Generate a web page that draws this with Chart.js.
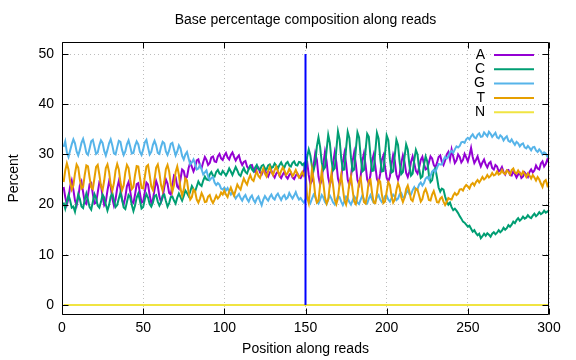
<!DOCTYPE html>
<html><head><meta charset="utf-8">
<script src="https://cdn.jsdelivr.net/npm/chart.js@4/dist/chart.umd.min.js"></script>
<style>html,body{margin:0;padding:0;background:#fff}canvas{display:block}</style>
</head><body>
<canvas id="c" width="576" height="360"></canvas>
<script>
const chartTitle = 'Base percentage composition along reads';
const xTitle = 'Position along reads';
const yTitle = 'Percent';
const seriesNames = ['A','C','G','T','N'];
const seriesColors = ['#9400d3','#009e73','#56b4e9','#e69f00','#f0e442'];
const xTicks = [0,50,100,150,200,250,300];
const yTicks = [0,10,20,30,40,50];
const markerX = 150;
const markerY = [0,50];

const A = [
23.5,21.5,20.0,21.2,23.6,24.8,23.0,20.8,19.8,21.4,
23.8,24.6,22.5,20.4,20.1,21.9,24.1,24.3,22.1,20.2,
20.4,22.4,24.4,23.9,21.6,19.9,20.6,22.8,24.6,23.6,
21.2,19.8,21.0,23.3,24.7,23.2,20.9,20.0,21.5,23.7,
24.5,22.7,20.6,20.3,22.0,24.1,24.3,22.3,20.4,20.6,
22.5,24.4,24.0,21.9,20.3,21.0,23.0,24.7,23.7,21.6,
20.5,21.4,23.5,25.0,24.2,22.3,22.0,23.9,25.8,25.5,
23.6,23.2,25.1,27.0,26.7,25.2,25.5,27.3,28.4,27.5,
26.6,27.4,28.8,29.0,27.8,27.3,28.5,29.5,28.9,27.9,
28.3,29.4,29.6,28.6,28.5,29.6,30.1,29.2,28.9,29.8,
30.3,29.4,29.0,29.9,30.4,29.5,28.8,29.4,29.8,28.6,
27.9,28.5,28.7,27.6,27.1,27.8,27.9,26.9,26.5,27.3,
27.4,26.4,26.0,26.8,27.0,26.1,25.6,26.4,26.8,25.9,
25.4,26.2,26.6,25.7,25.3,26.0,26.5,25.6,25.2,25.9,
26.3,25.4,25.1,25.8,26.2,25.5,25.3,25.9,26.6,28.5,
28.6,25.9,24.1,24.7,27.8,30.2,28.9,25.6,24.0,24.9,
28.1,30.5,28.6,25.4,23.9,25.1,28.3,30.4,28.4,25.2,
24.0,25.3,28.4,30.3,28.2,25.0,23.9,25.5,28.6,30.4,
28.1,24.9,24.0,25.7,28.7,30.2,27.9,25.0,24.2,25.9,
28.8,30.0,27.7,25.1,24.4,26.1,28.9,29.8,27.5,25.3,
24.6,25.6,28.0,29.9,28.7,26.0,25.0,26.1,28.3,29.8,
28.5,26.3,25.5,26.6,28.5,29.6,28.3,26.7,26.2,27.4,
28.9,29.5,28.1,27.0,27.2,28.4,29.6,29.2,27.9,27.4,
28.3,29.5,29.8,28.5,27.9,28.8,30.0,30.5,29.0,31.0,
29.6,28.3,28.8,30.0,29.5,28.4,28.9,30.1,29.4,28.6,
29.8,31.3,29.5,28.3,28.9,29.6,28.5,27.6,28.4,29.0,
28.0,27.4,28.2,28.5,27.3,27.0,27.9,27.6,26.6,26.9,
27.5,26.5,26.0,26.8,26.9,25.9,25.8,26.6,26.1,25.4,
26.0,26.3,25.3,25.6,26.4,26.0,25.5,26.5,27.0,26.4,
26.8,27.8,27.2,27.0,28.2,28.6,27.6,28.1,29.0,28.4
];

const C = [
20.4,19.2,20.6,21.9,20.8,19.4,19.6,18.6,20.3,22.0,
21.1,19.6,19.3,20.9,22.2,20.9,19.5,19.0,20.6,22.1,
21.3,19.8,19.4,20.5,22.0,21.4,20.0,18.8,19.9,21.6,
22.3,20.9,19.5,19.9,21.2,22.4,21.0,19.4,19.1,20.5,
21.9,21.5,19.9,18.7,19.8,21.4,22.2,20.8,19.2,19.5,
21.0,22.1,21.4,20.1,19.6,20.4,21.7,21.9,20.6,19.8,
20.5,21.8,22.0,20.7,19.6,20.3,21.5,21.6,20.8,20.2,
21.4,22.2,21.5,20.8,21.7,22.8,22.3,21.7,22.6,23.7,
23.1,22.6,23.6,24.6,24.0,23.7,24.8,25.6,25.0,24.9,
26.0,26.5,25.8,25.6,26.5,26.9,26.2,26.0,26.7,26.3,
25.8,26.4,27.2,26.6,25.9,26.7,27.5,26.8,26.0,25.7,
26.6,27.3,26.5,26.2,27.1,27.7,27.0,26.6,27.4,27.9,
27.1,26.9,27.7,27.9,27.2,27.0,27.8,28.0,27.3,27.5,
28.2,27.8,27.2,27.9,28.4,27.7,27.4,28.2,28.5,27.8,
27.6,28.3,28.6,27.9,27.8,28.5,28.4,27.9,28.2,26.5,
29.5,31.0,29.8,27.6,26.8,28.2,31.6,33.4,31.5,28.4,
26.9,27.4,30.9,33.9,32.3,28.8,26.8,27.2,31.0,34.6,
33.0,29.2,26.9,27.0,31.2,34.5,33.3,29.4,26.7,27.0,
31.0,34.4,33.4,29.5,26.6,26.9,30.8,34.1,33.5,29.6,
26.7,26.8,30.6,34.3,33.2,29.3,26.6,26.7,30.2,33.8,
32.9,29.0,26.4,26.6,29.8,32.9,31.9,28.4,26.1,26.5,
29.5,32.0,31.0,27.9,25.8,26.2,28.9,30.9,30.0,27.1,
25.3,25.6,28.0,29.6,28.6,26.0,24.5,24.9,26.7,27.2,
25.4,23.4,22.6,23.2,23.0,21.6,20.6,20.0,20.4,19.5,
18.9,19.2,18.8,18.3,17.7,17.2,16.6,16.4,16.0,15.6,
15.8,15.2,14.6,14.9,14.3,13.9,14.2,13.3,13.7,14.2,
13.8,14.3,14.0,13.6,14.2,14.5,14.1,14.4,14.9,14.5,
14.8,15.4,15.0,15.3,15.9,15.6,16.0,16.6,16.3,16.9,
17.3,16.8,17.1,17.6,17.2,17.4,17.9,17.5,17.3,17.8,
18.2,17.7,18.0,18.5,18.1,18.3,18.8,18.4,18.6,18.9
];

const G = [
31.5,32.6,30.4,29.5,30.8,32.0,33.0,32.2,30.6,29.8,
30.9,32.3,33.1,31.9,30.3,29.9,31.2,32.6,32.9,31.5,
30.1,30.4,31.8,32.8,32.3,30.7,29.8,30.9,32.2,33.0,
31.8,30.2,30.0,31.4,32.7,32.5,30.9,29.9,30.6,32.0,
32.8,31.6,30.2,30.3,31.7,32.6,32.0,30.5,29.9,31.0,
32.4,32.9,31.4,30.0,30.5,31.9,32.7,31.8,30.3,30.1,
31.5,32.5,32.2,30.6,29.9,30.8,32.1,32.3,31.0,29.8,
30.6,31.8,31.2,29.7,29.0,30.0,30.5,29.2,28.0,28.4,
29.0,28.1,27.0,27.2,27.9,27.0,26.0,26.4,26.8,25.6,
24.9,25.3,25.5,24.4,23.9,24.3,24.0,23.2,23.0,23.4,
22.8,23.3,22.5,22.0,22.6,21.8,21.2,21.7,22.1,21.3,
20.8,21.5,21.9,21.1,20.6,21.4,21.8,20.9,20.4,21.2,
21.6,20.7,19.9,21.0,21.7,21.2,20.8,21.5,22.0,21.3,
21.0,21.8,22.2,21.5,20.9,21.6,21.9,21.1,21.4,22.3,
21.7,21.2,21.8,22.5,21.6,21.0,21.3,20.8,20.4,21.0,
21.8,20.9,20.3,21.2,22.0,21.5,20.6,20.2,21.0,21.9,
21.4,20.5,20.1,21.1,21.8,21.2,20.4,20.0,20.9,21.7,
21.5,20.6,19.9,20.7,21.6,21.3,20.5,20.0,20.8,21.6,
21.2,20.4,20.1,21.0,21.8,21.1,20.3,20.2,21.2,21.9,
21.0,20.4,20.6,21.5,21.9,21.0,20.5,20.9,21.7,21.8,
21.0,20.6,21.3,22.0,21.6,20.9,21.2,22.1,22.3,21.5,
21.4,22.3,22.8,22.1,22.0,22.9,23.5,22.9,23.1,24.0,
24.4,23.8,24.3,25.2,25.5,25.0,25.7,26.6,26.9,26.5,
27.3,28.1,28.0,28.0,28.9,29.5,29.2,29.6,30.4,30.7,
30.3,31.0,31.6,31.4,31.7,32.4,32.5,32.3,33.0,33.3,
33.0,33.6,34.0,33.4,33.2,33.9,34.2,33.5,33.6,34.4,
34.0,33.6,34.5,34.1,33.5,33.9,34.3,33.4,33.2,33.8,
33.5,32.8,33.3,33.6,32.7,32.5,33.0,32.4,31.9,32.5,
32.2,31.6,32.0,32.2,31.4,31.2,31.7,31.3,30.8,31.4,
31.5,30.8,30.5,31.0,30.6,30.0,30.4,30.2,29.6,30.0
];

const T = [
24.5,26.8,28.2,27.0,24.6,23.0,23.8,26.2,28.0,27.4,
25.0,23.2,23.5,25.9,27.8,27.6,25.4,23.4,23.1,25.3,
27.5,27.9,26.0,23.7,22.9,24.8,27.3,28.0,26.5,24.0,
22.8,24.3,26.8,28.1,27.0,24.5,22.9,23.8,26.4,27.9,
27.3,25.0,23.1,23.5,25.9,27.7,27.6,25.4,23.3,23.2,
25.5,27.6,27.9,25.9,23.6,22.9,25.0,27.4,28.0,26.3,
23.9,22.8,24.6,27.1,27.9,26.6,24.1,22.6,23.9,26.5,
27.6,26.0,23.2,21.8,23.0,25.2,24.8,22.4,21.0,21.5,
23.0,22.6,21.0,20.4,21.2,22.3,21.6,20.5,20.6,21.6,
21.9,20.9,20.3,21.0,21.8,21.2,21.6,22.4,22.0,22.8,
22.0,21.5,22.6,23.4,22.5,21.8,22.9,24.0,23.4,23.0,
24.2,25.2,24.5,24.0,25.1,25.9,25.0,24.7,25.8,26.6,
25.7,25.3,26.4,27.2,26.2,25.6,26.7,27.5,26.5,25.9,
26.9,27.6,26.6,25.8,26.7,27.4,26.8,25.9,26.3,27.1,
26.5,25.7,26.2,26.9,26.1,25.4,25.9,26.5,25.8,26.6,
21.5,20.3,23.8,27.0,25.0,21.8,20.4,20.8,23.9,26.6,
24.3,21.4,20.2,21.0,24.0,26.2,23.8,21.0,20.1,21.3,
24.2,25.9,23.3,20.8,20.0,21.5,24.3,25.6,22.9,20.6,
20.1,21.8,24.6,25.3,22.6,20.5,20.2,22.0,24.8,25.0,
22.4,20.4,20.3,22.3,24.9,24.6,22.1,20.3,20.6,22.6,
24.5,23.9,21.7,20.4,21.0,22.9,24.2,23.3,21.4,20.5,
21.4,23.1,23.8,22.6,21.0,20.7,21.9,23.2,23.0,21.8,
20.6,21.1,22.5,23.1,22.2,20.9,20.8,22.0,22.7,21.6,
20.5,20.4,21.2,21.5,20.6,19.9,20.5,21.3,21.1,21.0,
21.8,22.3,21.9,22.2,23.0,23.1,22.8,23.5,23.9,23.6,
23.2,24.0,24.3,23.8,24.5,24.9,24.4,24.9,25.5,25.0,
25.3,25.9,25.4,25.7,26.3,25.8,26.0,26.6,26.0,26.2,
26.9,26.3,26.1,26.8,26.5,26.0,26.9,27.2,26.4,26.2,
26.8,26.3,25.9,26.6,26.1,25.5,26.2,25.8,25.2,25.9,
25.4,24.8,25.5,25.0,24.2,23.5,24.6,24.9,23.8,24.4
];

const N = [
0,0,0,0,0,0,0,0,0,0,0,0,0,0,0,0,0,0,0,0,0,0,0,0,0,0,0,0,0,0,0,0,0,0,0,0,0,0,0,0,0,0,0,0,0,0,0,0,0,0,
0,0,0,0,0,0,0,0,0,0,0,0,0,0,0,0,0,0,0,0,0,0,0,0,0,0,0,0,0,0,0,0,0,0,0,0,0,0,0,0,0,0,0,0,0,0,0,0,0,0,
0,0,0,0,0,0,0,0,0,0,0,0,0,0,0,0,0,0,0,0,0,0,0,0,0,0,0,0,0,0,0,0,0,0,0,0,0,0,0,0,0,0,0,0,0,0,0,0,0,0,
0,0,0,0,0,0,0,0,0,0,0,0,0,0,0,0,0,0,0,0,0,0,0,0,0,0,0,0,0,0,0,0,0,0,0,0,0,0,0,0,0,0,0,0,0,0,0,0,0,0,
0,0,0,0,0,0,0,0,0,0,0,0,0,0,0,0,0,0,0,0,0,0,0,0,0,0,0,0,0,0,0,0,0,0,0,0,0,0,0,0,0,0,0,0,0,0,0,0,0,0,
0,0,0,0,0,0,0,0,0,0,0,0,0,0,0,0,0,0,0,0,0,0,0,0,0,0,0,0,0,0,0,0,0,0,0,0,0,0,0,0,0,0,0,0,0,0,0,0,0,0
];

const positions = A.map((_, i) => i + 1);
const seriesValues = [A, C, G, T, N];

const FONT = "'Liberation Sans', Arial, Helvetica, sans-serif";
Chart.defaults.font.family = FONT;
Chart.defaults.font.size = 14;
Chart.defaults.color = '#000';

const datasets = seriesNames.map((name, k) => ({
  label: name,
  data: positions.map((p, i) => ({x: p, y: seriesValues[k][i]})),
  borderColor: seriesColors[k],
  backgroundColor: seriesColors[k],
  borderWidth: 2,
  pointRadius: 0,
  fill: false,
  tension: 0,
  order: 10 - k
}));
datasets.push({
  label: '_marker',
  data: markerY.map(v => ({x: markerX, y: v})),
  borderColor: '#0000ff',
  borderWidth: 2,
  pointRadius: 0,
  fill: false,
  order: 0
});

const deco = {
  id: 'deco',
  afterDraw(chart) {
    const {ctx, chartArea: a, scales: {x, y}} = chart;
    ctx.save();
    ctx.strokeStyle = '#000';
    ctx.lineWidth = 1;
    const L = Math.round(a.left) + 0.5, R = Math.round(a.right) - 0.5;
    const Tp = Math.round(a.top) + 0.5, B = Math.round(a.bottom) - 0.5;
    ctx.beginPath();
    ctx.rect(L, Tp, R - L, B - Tp);
    const tl = 6;
    xTicks.forEach(v => {
      const px = Math.round(x.getPixelForValue(v)) + 0.5;
      ctx.moveTo(px, B); ctx.lineTo(px, B - tl);
      ctx.moveTo(px, Tp); ctx.lineTo(px, Tp + tl);
    });
    yTicks.forEach(v => {
      const py = Math.round(y.getPixelForValue(v)) + 0.5;
      ctx.moveTo(L, py); ctx.lineTo(L + tl, py);
      ctx.moveTo(R, py); ctx.lineTo(R - tl, py);
    });
    ctx.stroke();
    // key
    ctx.font = '14px ' + FONT;
    ctx.textAlign = 'right';
    ctx.textBaseline = 'middle';
    const keyRight = a.right - 64, lineStart = a.right - 55, lineEnd = a.right - 15;
    seriesNames.forEach((n, k) => {
      const yy = a.top + 13 + k * 14.3;
      ctx.fillStyle = '#000';
      ctx.fillText(n, keyRight, yy);
      ctx.strokeStyle = seriesColors[k];
      ctx.lineWidth = 2;
      ctx.beginPath();
      ctx.moveTo(lineStart, yy); ctx.lineTo(lineEnd, yy);
      ctx.stroke();
    });
    ctx.restore();
  }
};

new Chart(document.getElementById('c'), {
  type: 'line',
  data: {datasets},
  plugins: [deco],
  options: {
    responsive: false,
    animation: false,
    devicePixelRatio: 1,
    layout: {padding: {left: 0, right: 27, top: 0, bottom: 0}},
    plugins: {
      legend: {display: false},
      tooltip: {enabled: false},
      title: {display: true, fullSize: false, text: chartTitle, color: '#000',
        font: {size: 14, weight: 'normal', family: FONT},
        padding: {top: 12, bottom: 13.2}}
    },
    scales: {
      x: {
        type: 'linear', min: 0, max: 300,
        afterBuildTicks: s => { s.ticks = xTicks.map(v => ({value: v})); },
        afterFit: s => { s.height = 45; },
        grid: {color: '#bdbdbd', lineWidth: 1, drawTicks: false},
        border: {display: false, dash: [1, 3]},
        ticks: {padding: 5, maxRotation: 0, color: '#000', font: {size: 14}},
        title: {display: true, text: xTitle, color: '#000', font: {size: 14}, padding: {top: 0, bottom: 2}}
      },
      y: {
        type: 'linear', min: -2, max: 52.4,
        afterBuildTicks: s => { s.ticks = yTicks.map(v => ({value: v})); },
        afterFit: s => { s.width = 62; },
        grid: {color: '#bdbdbd', lineWidth: 1, drawTicks: false},
        border: {display: false, dash: [1, 3]},
        ticks: {padding: 8, color: '#000', font: {size: 14}},
        title: {display: true, text: yTitle, color: '#000', font: {size: 14}, padding: {top: 6, bottom: 0}}
      }
    }
  }
});
</script>
</body></html>
